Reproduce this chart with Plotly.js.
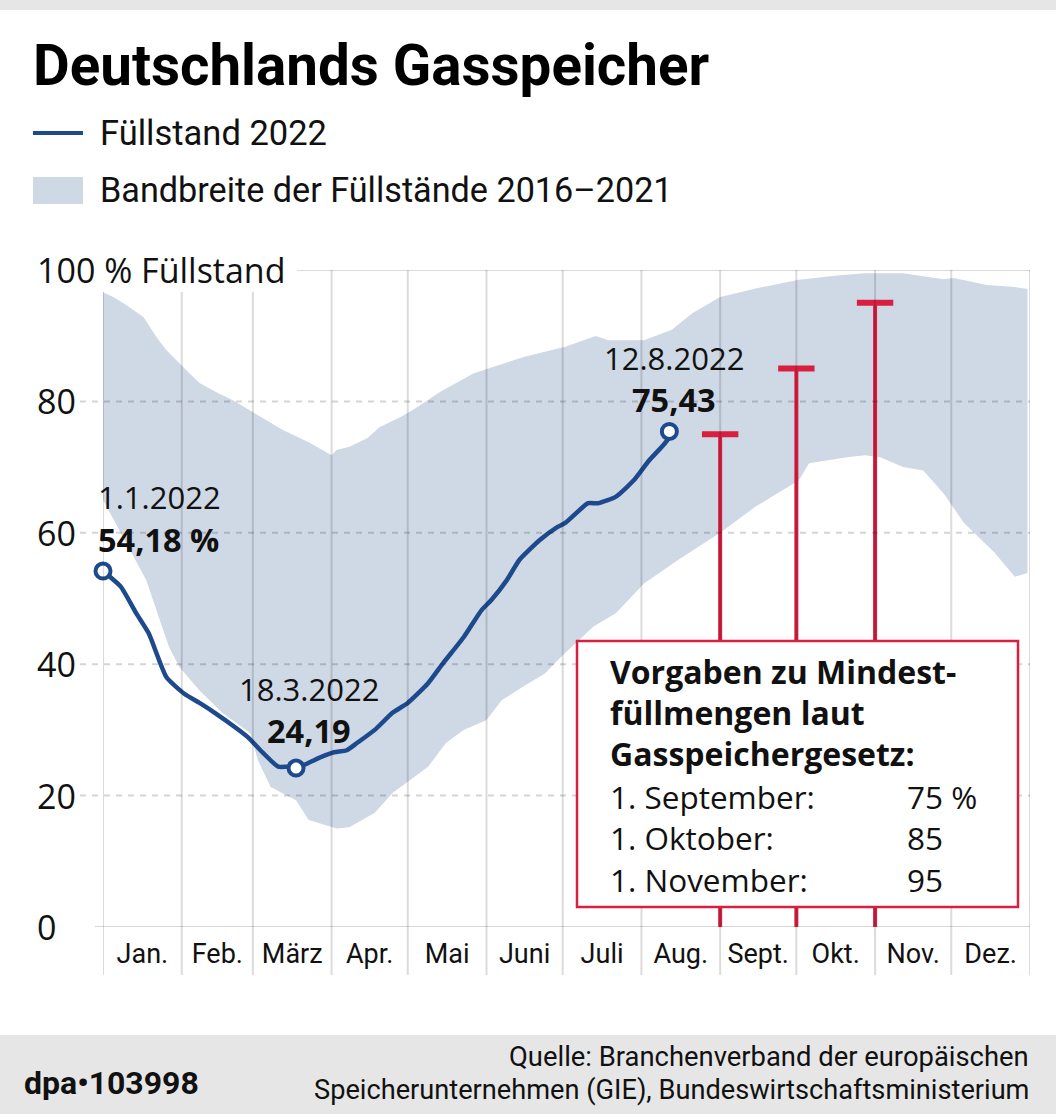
<!DOCTYPE html>
<html><head><meta charset="utf-8">
<script src="https://cdn.plot.ly/plotly-3.0.1.min.js"></script>
<style>html,body{margin:0;padding:0;background:#fff}#chart{width:1056px;height:1114px}</style>
</head><body><div id="chart"></div>
<script>
// ---- data ----
const bandMaxDates = ['2022-01-01','2022-01-05','2022-01-10','2022-01-17','2022-01-22','2022-01-26','2022-01-31','2022-02-04','2022-02-08','2022-02-15','2022-02-21','2022-03-03','2022-03-13','2022-03-23','2022-04-01','2022-04-03','2022-04-08','2022-04-15','2022-04-20','2022-04-28','2022-05-03','2022-05-14','2022-05-27','2022-06-02','2022-06-16','2022-07-02','2022-07-14','2022-07-19','2022-08-02','2022-08-13','2022-08-21','2022-09-01','2022-09-15','2022-10-02','2022-10-18','2022-10-28','2022-11-12','2022-11-28','2022-12-02','2022-12-15','2022-12-26','2022-12-31'];
const bandMaxValues = [96.6,95.9,94.7,92.8,89.8,87.8,85.8,84.3,82.8,81.3,80.2,77.9,75.6,73.8,71.8,72.6,73.1,74.4,76.1,77.6,78.7,81.5,84.3,85.1,86.8,88.3,89.95,89.3,89.3,90.9,93.4,95.9,97.2,98.5,99.2,99.5,99.5,98.6,98.8,97.7,97.4,97.1];
const bandMinDates = ['2022-01-01','2022-01-08','2022-01-13','2022-01-18','2022-01-27','2022-01-31','2022-02-08','2022-02-17','2022-02-28','2022-03-03','2022-03-08','2022-03-18','2022-03-23','2022-04-03','2022-04-08','2022-04-18','2022-04-25','2022-05-02','2022-05-09','2022-05-16','2022-05-23','2022-06-01','2022-06-07','2022-06-15','2022-06-24','2022-06-30','2022-07-13','2022-07-22','2022-08-02','2022-08-16','2022-09-01','2022-09-15','2022-10-02','2022-10-06','2022-10-21','2022-10-28','2022-11-03','2022-11-12','2022-11-20','2022-11-28','2022-12-06','2022-12-18','2022-12-26','2022-12-31'];
const bandMinValues = [65,60,56.3,52.8,42.6,39.6,36,32.6,29.5,25.4,21.3,19.3,16.3,15,15.2,17.4,20.4,22.4,24.4,28,30,31.5,34.5,36.5,38.6,41,45.7,47.8,52.3,56,60,64,68,70.6,71.5,71.8,71.5,70,69.5,66,61.5,57,53.3,53.9];
const fillDates = ['2022-01-01','2022-01-08','2022-01-14','2022-01-19','2022-01-26','2022-02-02','2022-02-08','2022-02-14','2022-02-22','2022-02-27','2022-03-05','2022-03-11','2022-03-15','2022-03-18','2022-03-28','2022-04-02','2022-04-07','2022-04-11','2022-04-18','2022-04-25','2022-05-01','2022-05-09','2022-05-15','2022-05-23','2022-05-30','2022-06-03','2022-06-09','2022-06-14','2022-06-22','2022-06-29','2022-07-02','2022-07-11','2022-07-15','2022-07-22','2022-07-29','2022-08-04','2022-08-11','2022-08-12'];
const fillValues = [54.18,51.8,47.8,44.7,38,35.5,34.1,32.6,30.4,28.9,26.5,24.4,24.4,24.19,25.9,26.6,26.9,28,30,32.6,34.1,37.1,40.2,44.1,48.2,49.8,52.8,55.9,58.9,60.9,61.5,64.5,64.5,65.5,68,71,74,75.43];
const highlightDates = ['2022-01-01','2022-03-18','2022-08-12'];
const highlightValues = [54.18,24.19,75.43];
const highlightDateLabels = ['1.1.2022','18.3.2022','12.8.2022'];
const highlightValueLabels = ['54,18 %','24,19','75,43'];
const targetDates = ['2022-09-01','2022-10-01','2022-11-01'];
const targetValues = [75,85,95];
const targetLabels = ['1. September:','1. Oktober:','1. November:'];
const targetValueLabels = ['75 %','85','95'];
const monthStarts = ['2022-01-01','2022-02-01','2022-03-01','2022-04-01','2022-05-01','2022-06-01','2022-07-01','2022-08-01','2022-09-01','2022-10-01','2022-11-01','2022-12-01','2023-01-01'];
const monthCenters = ['2022-01-16 12:00','2022-02-15','2022-03-16 12:00','2022-04-16','2022-05-16 12:00','2022-06-16','2022-07-16 12:00','2022-08-16 12:00','2022-09-16','2022-10-16 12:00','2022-11-16','2022-12-16 12:00'];
const monthLabels = ['Jan.','Feb.','März','Apr.','Mai','Juni','Juli','Aug.','Sept.','Okt.','Nov.','Dez.'];
const yTicks = [0,20,40,60,80,100];
const yTickLabels = ['0','20','40','60','80','100 % Füllstand'];

// ---- styles ----
const BLUE = '#1d4a8c', BAND = '#cfd8e5', RED = '#d81f40';
const COND = 'Roboto, "Liberation Sans", sans-serif';
const HUM = '"Open Sans","Noto Sans",sans-serif';

const traces = [
  {x: bandMinDates.concat(bandMaxDates.slice().reverse()), y: bandMinValues.concat(bandMaxValues.slice().reverse()), type:'scatter', mode:'lines', line:{width:0, color:BAND}, fill:'toself', fillcolor:BAND, hoverinfo:'skip'},
  {x: targetDates.flatMap(d=>[d,d,null]), y: targetValues.flatMap(v=>[0,v,null]), type:'scatter', mode:'lines', line:{color:RED, width:4}, hoverinfo:'skip'},
  {x: targetDates, y: targetValues, type:'scatter', mode:'markers', marker:{symbol:'line-ew', size:26, line:{width:6, color:RED}}, hoverinfo:'skip'},
  {x: fillDates, y: fillValues, type:'scatter', mode:'lines', line:{color:BLUE, width:4.5, shape:'spline', smoothing:0.5}, hoverinfo:'skip'},
  {x: highlightDates, y: highlightValues, type:'scatter', mode:'markers', marker:{symbol:'circle', size:15, color:'#fff', line:{width:4, color:BLUE}}, hoverinfo:'skip', cliponaxis:false}
];

const px = x => (x-103)/927, py = y => (927-y)/657;
const shapes = [];
shapes.push({type:'rect', xref:'paper', yref:'paper', x0:-0.2, x1:1.1, y0:py(10), y1:py(-20), fillcolor:'#e6e6e6', line:{width:0}, layer:'below'});
shapes.push({type:'rect', xref:'paper', yref:'paper', x0:-0.2, x1:1.1, y0:py(1140), y1:py(1035), fillcolor:'#e6e6e6', line:{width:0}, layer:'below'});
[20,40,60,80].forEach(v => shapes.push({type:'line', xref:'paper', yref:'y', x0:px(80), x1:1, y0:v, y1:v, line:{color:'rgba(0,0,0,0.17)', width:2, dash:'6px,6px'}, layer:'above'}));
shapes.push({type:'line', xref:'paper', yref:'y', x0:px(297), x1:1, y0:100, y1:100, line:{color:'#dadada', width:2}, layer:'below'});
shapes.push({type:'line', xref:'paper', yref:'y', x0:px(95), x1:1, y0:0, y1:0, line:{color:'#d6d6d6', width:2}, layer:'below'});
monthStarts.forEach((d,i) => shapes.push({type:'line', xref:'x', yref:'paper', x0:d, x1:d, y0:py(975), y1: i<3 ? py(292) : 1, line:{color:'rgba(0,0,0,0.14)', width:2}, layer:'above'}));
shapes.push({type:'rect', xref:'paper', yref:'paper', x0:px(577), x1:px(1018), y0:py(907), y1:py(641), fillcolor:'#fff', line:{color:RED, width:2.5}, layer:'above'});
shapes.push({type:'line', xref:'paper', yref:'paper', x0:px(33), x1:px(83), y0:py(133), y1:py(133), line:{color:BLUE, width:4}});
shapes.push({type:'rect', xref:'paper', yref:'paper', x0:px(33), x1:px(83), y0:py(204), y1:py(177), fillcolor:BAND, line:{width:0}});

const ann = [];
yTicks.forEach((v,i) => ann.push({xref:'paper', yref:'y', x:px(35), y:v, text:yTickLabels[i], showarrow:false, xanchor:'left', yanchor:'middle', font:{family:HUM, size:34, color:'#111'}}));
// highlight labels: date line and bold value line
const hlPos = [[96,'left',497,539],[309,'center',689,730],[674,'center',358,399]];
highlightDates.forEach((d,i) => {
  const p = hlPos[i];
  ann.push({xref:'paper', yref:'paper', x:px(p[0]), y:py(p[2]), text:highlightDateLabels[i], showarrow:false, xanchor:p[1], yanchor:'middle', font:{family:HUM, size:31, color:'#111'}});
  ann.push({xref:'paper', yref:'paper', x:px(p[0]), y:py(p[3]), text:'<b>'+highlightValueLabels[i]+'</b>', showarrow:false, xanchor:p[1], yanchor:'middle', font:{family:HUM, size:32.5, color:'#111'}});
});
['Vorgaben zu Mindest-','füllmengen laut','Gasspeichergesetz:'].forEach((t,i) => ann.push({xref:'paper', yref:'paper', x:px(608), y:py(671+i*41), text:'<b>'+t+'</b>', showarrow:false, xanchor:'left', yanchor:'middle', font:{family:HUM, size:32, color:'#111'}}));
targetLabels.forEach((t,i) => {
  ann.push({xref:'paper', yref:'paper', x:px(608), y:py(796+i*41.5), text:t, showarrow:false, xanchor:'left', yanchor:'middle', font:{family:HUM, size:31.5, color:'#111'}});
  ann.push({xref:'paper', yref:'paper', x:px(905), y:py(796+i*41.5), text:targetValueLabels[i], showarrow:false, xanchor:'left', yanchor:'middle', font:{family:HUM, size:31.5, color:'#111'}});
});
ann.push({xref:'paper', yref:'paper', x:px(98), y:py(133), text:'Füllstand 2022', showarrow:false, xanchor:'left', yanchor:'middle', font:{family:COND, size:34.5, color:'#111'}});
ann.push({xref:'paper', yref:'paper', x:px(98), y:py(190), text:'Bandbreite der Füllstände 2016–2021', showarrow:false, xanchor:'left', yanchor:'middle', font:{family:COND, size:34.2, color:'#111'}});
ann.push({xref:'paper', yref:'paper', x:px(22), y:py(1083), text:'<b>dpa•103998</b>', showarrow:false, xanchor:'left', yanchor:'middle', font:{family:COND, size:32, color:'#111'}});
ann.push({xref:'paper', yref:'paper', x:px(1031), y:py(1057), text:'Quelle: Branchenverband der europäischen', showarrow:false, xanchor:'right', yanchor:'middle', font:{family:COND, size:27.4, color:'#111'}});
ann.push({xref:'paper', yref:'paper', x:px(1031), y:py(1090), text:'Speicherunternehmen (GIE), Bundeswirtschaftsministerium', showarrow:false, xanchor:'right', yanchor:'middle', font:{family:COND, size:27.2, color:'#111'}});

const layout = {
  width:1056, height:1114,
  margin:{l:103, r:26, t:270, b:187},
  paper_bgcolor:'#fff', plot_bgcolor:'rgba(0,0,0,0)',
  showlegend:false,
  title:{text:'<b>Deutschlands Gasspeicher</b>', x:33/1056, xanchor:'left', xref:'container', y:1-65/1114, yanchor:'middle', yref:'container', font:{family:COND, size:56.5, color:'#000'}},
  xaxis:{type:'date', range:['2022-01-01','2023-01-01'], showgrid:false, zeroline:false, showline:false, tickmode:'array', tickvals:monthCenters, ticktext:monthLabels, ticks:'', tickfont:{family:COND, size:27, color:'#111'}, ticklabelstandoff:8, fixedrange:true},
  yaxis:{range:[0,100], showgrid:false, zeroline:false, showline:false, showticklabels:false, ticks:'', fixedrange:true},
  shapes: shapes,
  annotations: ann
};
Plotly.newPlot('chart', traces, layout, {displayModeBar:false, staticPlot:true});
</script></body></html>
